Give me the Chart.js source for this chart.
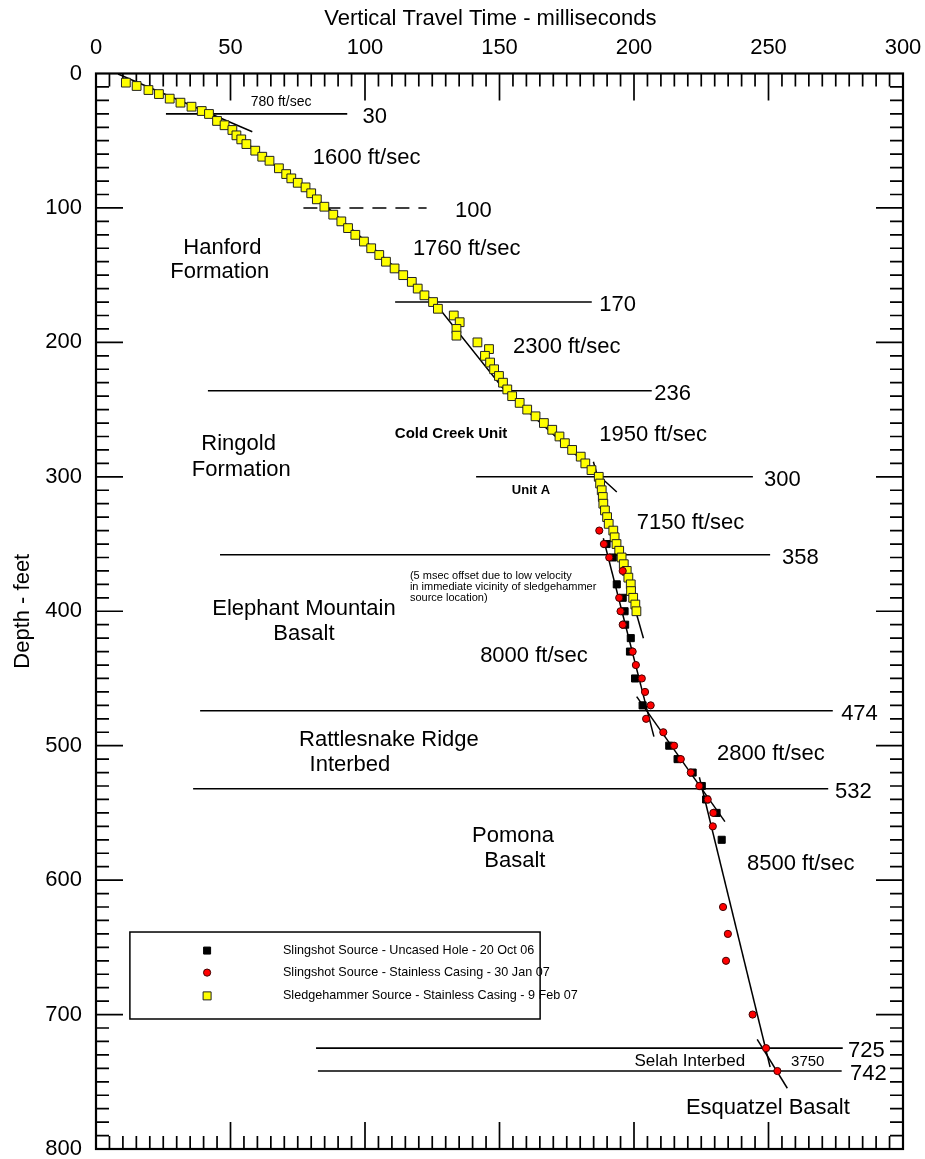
<!DOCTYPE html>
<html>
<head>
<meta charset="utf-8">
<script src="https://cdn.jsdelivr.net/npm/chart.js@4/dist/chart.umd.min.js"></script>
<style>
  html, body { margin: 0; padding: 0; background: #fff; }
  canvas { display: block; }
</style>
</head>
<body>
<canvas id="chart" width="925" height="1159"></canvas>
<script>
// ---- Travel-time picks (time in ms, depth in ft) ----
const sledgeDepth = [6.8, 9.3, 12.3, 15.3, 18.7, 21.7, 24.7, 27.9, 30.1, 35.3, 38.5, 42.0, 46.0, 49.0, 52.5,
  57.4, 61.9, 64.9, 70.5, 74.8, 78.0, 81.3, 84.7, 89.1, 93.6, 99.1,
  105, 110, 115, 120, 125, 130, 135, 140, 145, 150, 155, 160, 165, 170, 175,
  180, 185, 190, 195, 200, 205, 210, 215, 220, 225,
  230, 235, 240, 245, 250, 255, 260, 265, 270, 275, 280, 285, 290, 295, 300,
  305, 310, 315, 320, 325, 330, 335, 340, 345, 350, 355, 360, 365, 370, 375, 380, 385, 390, 395, 400];
const sledgeTime = [11.1, 15.1, 19.5, 23.4, 27.4, 31.4, 35.5, 39.3, 42.0, 45.0, 47.8, 50.7, 52.2, 54.0, 55.9,
  59.2, 61.8, 64.5, 68.0, 70.7, 72.6, 75.0, 77.9, 80.0, 82.1, 84.9,
  88.2, 91.2, 93.7, 96.4, 99.6, 102.3, 105.3, 107.8, 111.0, 114.2, 117.4, 119.6, 122.1, 125.3, 127.1,
  133.0, 135.2, 134.0, 134.0, 141.8, 146.1, 144.6, 146.5, 148.0, 149.8,
  151.3, 152.9, 154.7, 157.5, 160.3, 163.4, 166.5, 169.6, 172.3, 174.3, 177.0, 180.2, 181.9, 184.2, 186.9,
  187.4, 188.0, 188.4, 188.6, 189.2, 190.0, 190.6, 192.3, 192.8, 193.5, 194.5, 195.4, 196.2, 197.3, 197.9,
  198.8, 198.9, 199.7, 200.5, 200.9];

const uncasedDepth = [350, 360, 380, 390, 400, 410, 420, 430, 450, 470, 500, 510, 520, 530, 540, 550, 570];
const uncasedTime  = [189.8, 192.1, 193.6, 195.8, 196.5, 196.7, 198.8, 198.5, 200.4, 203.2, 213.1, 216.2, 221.8, 225.2, 226.8, 230.7, 232.6];

const casingDepth = [340, 350, 360, 370, 390, 400, 410, 430, 440, 450, 460, 470, 480, 490, 500, 510, 520, 530, 540, 550, 560, 620, 640, 660, 700, 725, 742];
const casingTime  = [187.1, 188.8, 190.8, 195.8, 194.5, 195.0, 195.8, 199.5, 200.7, 202.9, 204.1, 206.2, 204.5, 210.9, 214.9, 217.4, 221.1, 224.3, 227.4, 229.5, 229.3, 233.1, 234.9, 234.2, 244.1, 249.1, 253.3];

// ---- Interval velocity fits ----
const fit780Time = [8.2, 58.1];      const fit780Depth = [0.4, 43.3];
const fitUpperTime = [42.4, 86.2, 125.7, 152.0, 187.4, 193.6];
const fitUpperDepth = [30, 100, 170, 236, 300, 311.3];
const fit7150Time = [184.9, 203.5];  const fit7150Depth = [288.8, 420.1];
const fit8000Time = [188.6, 207.4];  const fit8000Depth = [345.7, 493.3];
const fit2800Time = [201.0, 233.8];  const fit2800Depth = [463.5, 556.5];
const fit8500Time = [224.3, 250.6];  const fit8500Depth = [523.5, 739.0];
const fit3750Time = [245.8, 257.0];  const fit3750Depth = [718.4, 754.8];

// ---- Layer boundaries ----
const boundaryDepth = [30, 100, 170, 236, 300, 358, 474, 532, 725, 742];
const boundaryFrom  = [26.0, 77.1, 111.2, 41.6, 141.3, 46.1, 38.7, 36.1, 81.8, 82.5];
const boundaryTo    = [93.4, 122.9, 184.3, 206.6, 244.2, 250.6, 273.9, 272.2, 277.6, 277.2];
const boundaryLabelAt = [99.1, 133.5, 187.1, 207.5, 248.3, 255.0, 277.0, 274.7, 279.6, 280.3];

const xTicks = [0, 50, 100, 150, 200, 250, 300];
const yTicks = [0, 100, 200, 300, 400, 500, 600, 700, 800];

const FONT = '"Liberation Sans", Arial, Helvetica, sans-serif';

const pts = (ts, ds) => ts.map((t, i) => ({ x: t, y: ds[i] }));
const fitLine = (ts, ds) => ({ type: 'scatter', data: pts(ts, ds), showLine: true, pointRadius: 0,
  borderColor: '#000', borderWidth: 1.5, fill: false, order: 5 });

const datasets = [
  fitLine(fit780Time, fit780Depth),
  fitLine(fitUpperTime, fitUpperDepth),
  fitLine(fit7150Time, fit7150Depth),
  fitLine(fit8000Time, fit8000Depth),
  fitLine(fit2800Time, fit2800Depth),
  fitLine(fit8500Time, fit8500Depth),
  fitLine(fit3750Time, fit3750Depth)
];
boundaryDepth.forEach((d, i) => {
  datasets.push({ type: 'scatter', data: [{ x: boundaryFrom[i], y: d }, { x: boundaryTo[i], y: d }],
    showLine: true, pointRadius: 0, borderColor: '#000', borderWidth: 1.6,
    borderDash: d === 100 ? [14, 9] : [], order: 6 });
});
datasets.push(
  { label: 'Sledgehammer Source - Stainless Casing - 9 Feb 07', data: pts(sledgeTime, sledgeDepth),
    pointStyle: 'rect', pointRadius: 6.2, backgroundColor: '#ffff00', borderColor: '#222', borderWidth: 1, order: 3 },
  { label: 'Slingshot Source - Uncased Hole - 20 Oct 06', data: pts(uncasedTime, uncasedDepth),
    pointStyle: 'rect', pointRadius: 5, backgroundColor: '#000', borderColor: '#000', borderWidth: 1, order: 2 },
  { label: 'Slingshot Source - Stainless Casing - 30 Jan 07', data: pts(casingTime, casingDepth),
    pointStyle: 'circle', pointRadius: 3.6, backgroundColor: '#ff0000', borderColor: '#400', borderWidth: 1, order: 1 }
);

// Text placed on the section (time, depth, size, align, weight)
const notes = [
  ['780 ft/sec', 68.8, 21.4, 14, 'center', 'normal'],
  ['1600 ft/sec', 80.6, 62.5, 22, 'left', 'normal'],
  ['Hanford', 47.0, 129.8, 22, 'center', 'normal'],
  ['Formation', 46.0, 147.6, 22, 'center', 'normal'],
  ['1760 ft/sec', 117.8, 130.5, 22, 'left', 'normal'],
  ['2300 ft/sec', 155.0, 203.4, 22, 'left', 'normal'],
  ['Ringold', 53.0, 275.6, 22, 'center', 'normal'],
  ['Formation', 54.0, 295.0, 22, 'center', 'normal'],
  ['Cold Creek Unit', 132.0, 268.1, 15, 'center', 'bold'],
  ['1950 ft/sec', 187.1, 268.9, 22, 'left', 'normal'],
  ['Unit A', 161.7, 309.8, 13, 'center', 'bold'],
  ['7150 ft/sec', 201.0, 334.3, 22, 'left', 'normal'],
  ['(5 msec offset due to low velocity', 116.7, 373.8, 11, 'left', 'normal'],
  ['in immediate vicinity of sledgehammer', 116.7, 382.0, 11, 'left', 'normal'],
  ['source location)', 116.7, 390.1, 11, 'left', 'normal'],
  ['Elephant Mountain', 77.3, 398.3, 22, 'center', 'normal'],
  ['Basalt', 77.3, 416.9, 22, 'center', 'normal'],
  ['8000 ft/sec', 142.8, 433.3, 22, 'left', 'normal'],
  ['Rattlesnake Ridge', 108.9, 495.8, 22, 'center', 'normal'],
  ['Interbed', 94.4, 514.5, 22, 'center', 'normal'],
  ['2800 ft/sec', 230.9, 506.1, 22, 'left', 'normal'],
  ['Pomona', 155.0, 567.1, 22, 'center', 'normal'],
  ['Basalt', 155.7, 585.7, 22, 'center', 'normal'],
  ['8500 ft/sec', 242.0, 587.9, 22, 'left', 'normal'],
  ['Selah Interbed', 241.3, 735.1, 17, 'right', 'normal'],
  ['3750', 258.4, 735.1, 15, 'left', 'normal'],
  ['Esquatzel Basalt', 219.3, 769.3, 22, 'left', 'normal']
];

// Axis frame with inward ticks on all four sides
const frameTicks = {
  id: 'frameTicks',
  beforeDatasetsDraw(chart) {
    const { ctx, chartArea: a, scales: { x, y } } = chart;
    ctx.save();
    ctx.strokeStyle = '#000';
    ctx.lineWidth = 1.7;
    ctx.beginPath();
    for (let v = 5; v < 300; v += 5) {
      const px = x.getPixelForValue(v);
      const len = v % 50 === 0 ? 27 : 13;
      ctx.moveTo(px, a.top); ctx.lineTo(px, a.top + len);
      ctx.moveTo(px, a.bottom); ctx.lineTo(px, a.bottom - len);
    }
    for (let v = 10; v < 800; v += 10) {
      const py = y.getPixelForValue(v);
      const len = v % 100 === 0 ? 27 : 13;
      ctx.moveTo(a.left, py); ctx.lineTo(a.left + len, py);
      ctx.moveTo(a.right, py); ctx.lineTo(a.right - len, py);
    }
    ctx.stroke();
    ctx.lineWidth = 2.2;
    ctx.strokeRect(a.left, a.top, a.right - a.left, a.bottom - a.top);
    ctx.restore();
  }
};

// Section labels, boundary depths and the legend box
const sectionText = {
  id: 'sectionText',
  afterDatasetsDraw(chart) {
    const { ctx, scales: { x, y } } = chart;
    ctx.save();
    ctx.fillStyle = '#000';
    ctx.textBaseline = 'middle';
    notes.forEach(([txt, t, d, size, align, weight]) => {
      ctx.font = `${weight} ${size}px ${FONT}`;
      ctx.textAlign = align;
      ctx.fillText(txt, x.getPixelForValue(t), y.getPixelForValue(d));
    });
    ctx.font = `22px ${FONT}`;
    ctx.textAlign = 'left';
    boundaryDepth.forEach((d, i) => {
      ctx.fillText(String(d), x.getPixelForValue(boundaryLabelAt[i]), y.getPixelForValue(d) + 3);
    });

    // legend
    const x0 = x.getPixelForValue(12.6), x1 = x.getPixelForValue(165.1);
    const y0 = y.getPixelForValue(638.6), y1 = y.getPixelForValue(703.3);
    ctx.fillStyle = '#fff';
    ctx.fillRect(x0, y0, x1 - x0, y1 - y0);
    ctx.strokeStyle = '#000';
    ctx.lineWidth = 1.5;
    ctx.strokeRect(x0, y0, x1 - x0, y1 - y0);
    const mx = x.getPixelForValue(41.3), tx = x.getPixelForValue(69.5);
    const rows = [652.4, 668.8, 686.1].map(d => y.getPixelForValue(d));
    const order = [1, 2, 0];
    const pointSets = chart.data.datasets.slice(-3);
    ctx.font = `12.6px ${FONT}`;
    order.forEach((k, r) => {
      const ds = pointSets[k];
      const cy = rows[r];
      ctx.fillStyle = ds.backgroundColor;
      ctx.strokeStyle = ds.borderColor;
      ctx.lineWidth = 1;
      ctx.beginPath();
      if (ds.pointStyle === 'circle') {
        ctx.arc(mx, cy, 3.6, 0, Math.PI * 2);
      } else {
        const s = k === 0 ? 4 : 3.5;
        ctx.rect(mx - s, cy - s, 2 * s, 2 * s);
      }
      ctx.fill(); ctx.stroke();
      ctx.fillStyle = '#000';
      ctx.textAlign = 'left';
      ctx.fillText(ds.label, tx, cy);
    });
    ctx.restore();
  }
};

const noEdgePadding = s => { s.paddingLeft = 0; s.paddingRight = 0; s.paddingTop = 0; s.paddingBottom = 0; };

new Chart(document.getElementById('chart'), {
  type: 'scatter',
  data: { datasets },
  options: {
    responsive: false,
    animation: false,
    devicePixelRatio: 1,
    layout: { padding: { left: 0, top: 0, right: 22, bottom: 10 } },
    plugins: { legend: { display: false }, tooltip: { enabled: false } },
    elements: { line: { tension: 0 } },
    scales: {
      x: {
        type: 'linear', position: 'top', min: 0, max: 300,
        afterBuildTicks: s => { s.ticks = xTicks.map(v => ({ value: v })); },
        afterFit: s => { s.height = 73.5; noEdgePadding(s); },
        ticks: { color: '#000', font: { family: FONT, size: 22 }, padding: 12 },
        grid: { display: false, drawTicks: false },
        border: { display: false },
        title: { display: true, text: 'Vertical Travel Time - milliseconds   ', color: '#000',
          font: { family: FONT, size: 22 }, padding: { top: 6, bottom: 0 } }
      },
      y: {
        type: 'linear', position: 'left', min: 0, max: 800, reverse: true,
        afterBuildTicks: s => { s.ticks = yTicks.map(v => ({ value: v })); },
        afterFit: s => { s.width = 96; noEdgePadding(s); },
        ticks: { color: '#000', font: { family: FONT, size: 22 }, padding: 14 },
        grid: { display: false, drawTicks: false },
        border: { display: false },
        title: { display: true, text: 'Depth - feet', color: '#000',
          font: { family: FONT, size: 22 }, padding: { top: 10, bottom: 0 } }
      }
    }
  },
  plugins: [frameTicks, sectionText]
});
</script>
</body>
</html>
